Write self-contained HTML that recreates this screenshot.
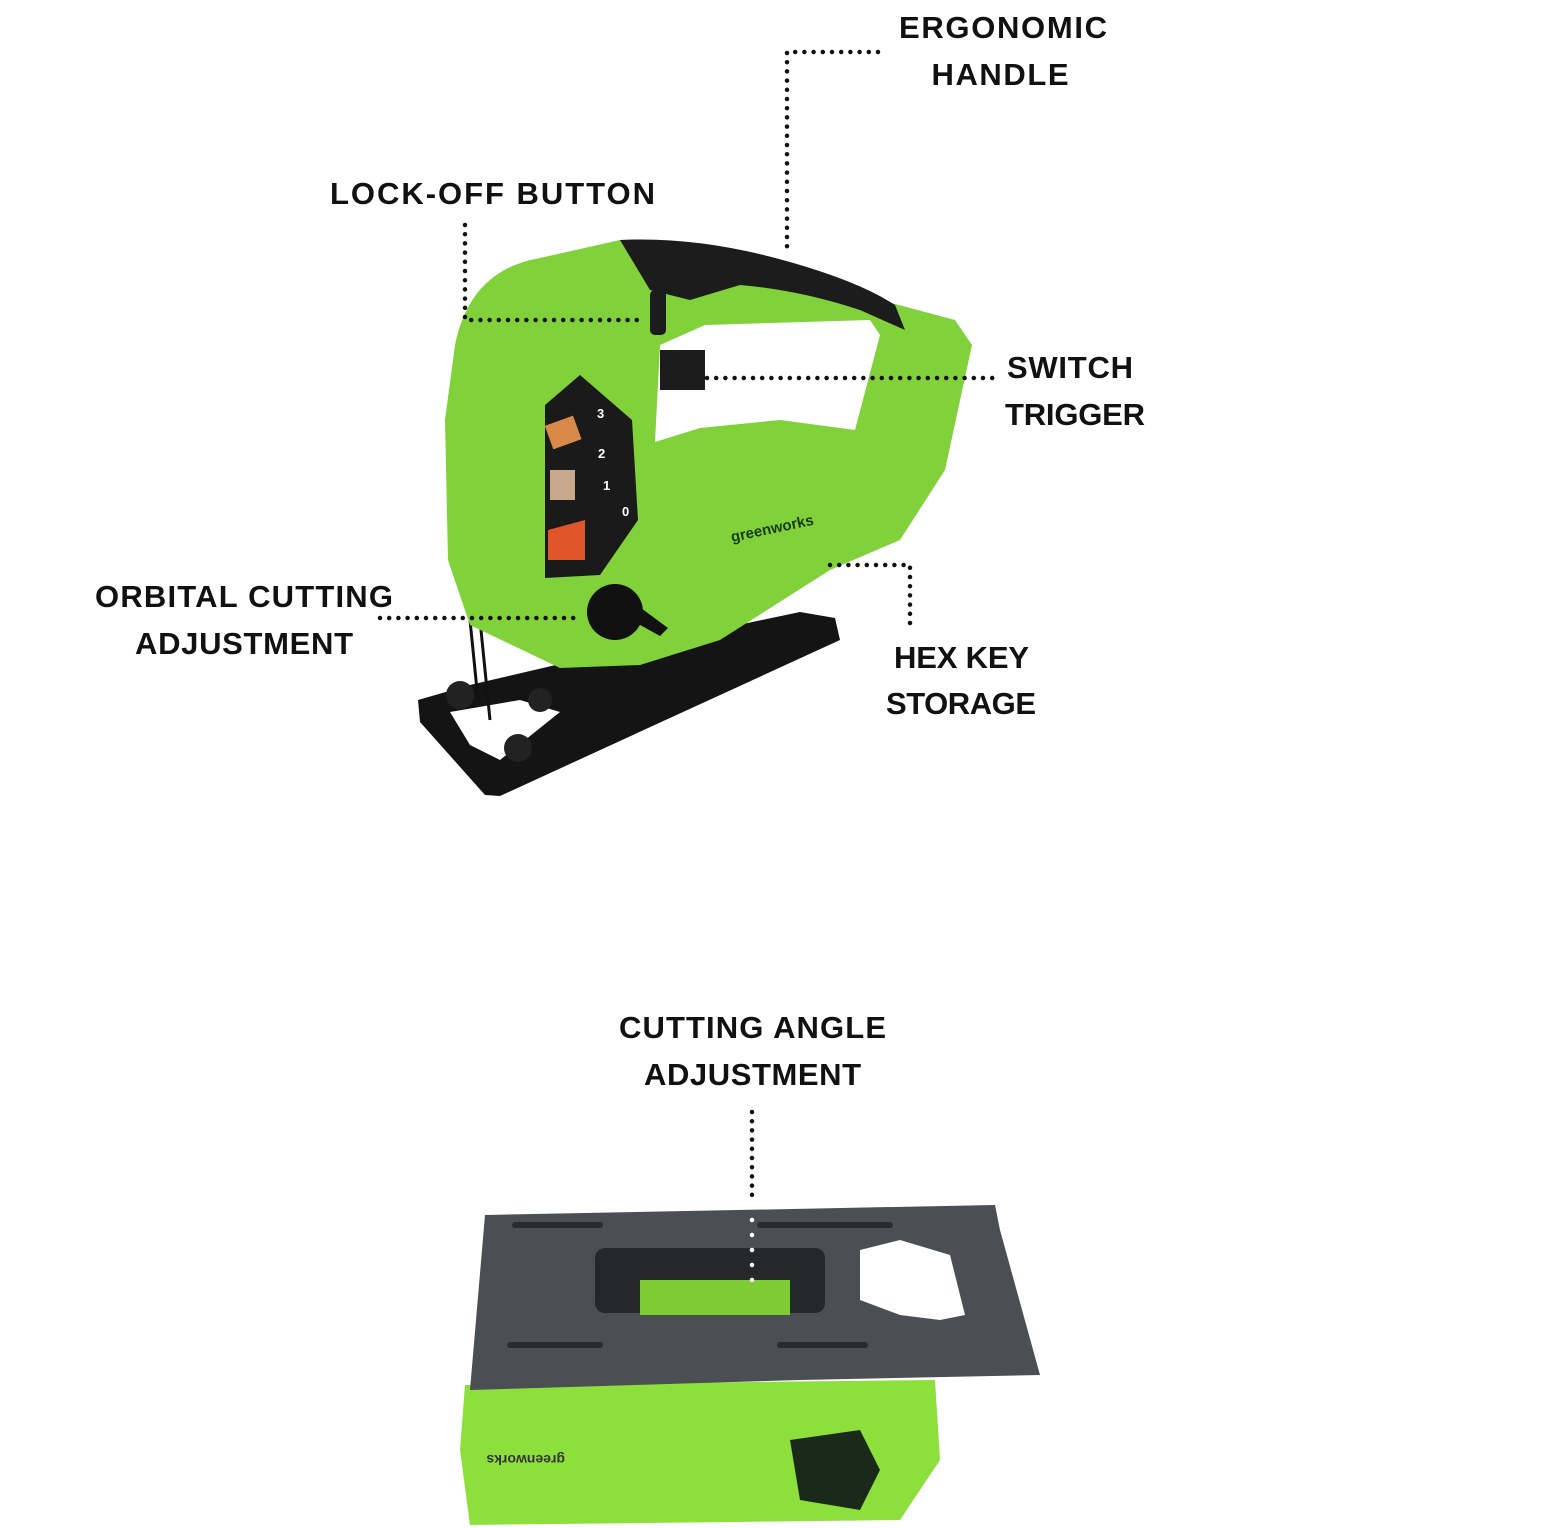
<!DOCTYPE html>
<html><head><meta charset="utf-8"><style>
html,body{margin:0;padding:0;background:#fff}
svg{display:block}
text{font-family:"Liberation Sans",sans-serif;font-weight:bold;font-size:31px;fill:#111}
</style></head><body>
<svg width="1555" height="1528" viewBox="0 0 1555 1528" xmlns="http://www.w3.org/2000/svg">
<!-- top jigsaw -->
<!-- base -->
<polygon points="418,700 470,685 620,650 800,612 835,618 840,640 500,796 485,795 420,722" fill="#141414"/>
<polygon points="450,712 520,700 560,712 500,760 470,745" fill="#fff"/>
<circle cx="460" cy="695" r="14" fill="#222"/><circle cx="518" cy="748" r="14" fill="#222"/><circle cx="540" cy="700" r="12" fill="#222"/>
<line x1="470" y1="620" x2="478" y2="700" stroke="#111" stroke-width="3"/>
<line x1="480" y1="620" x2="490" y2="720" stroke="#111" stroke-width="3"/>
<!-- body -->
<path d="M455,345 Q470,270 540,258 L620,240 L760,262 L880,300 L955,320 L972,345 L945,470 L900,540 L830,570 L720,640 L640,665 L560,668 L470,625 L448,560 L445,420 Z" fill="#80d13a"/>
<path d="M620,240 Q700,236 790,262 Q860,282 895,305 L905,330 L860,310 Q800,290 740,285 L690,300 L650,290 Z" fill="#1c1c1c"/>
<!-- handle hole -->
<path d="M660,345 L705,325 L870,320 L880,335 L855,430 L780,420 L700,428 L655,442 Z" fill="#fff"/>
<rect x="650" y="290" width="16" height="45" rx="5" fill="#1c1c1c"/>
<rect x="660" y="350" width="45" height="40" fill="#1c1c1c"/>
<!-- panel -->
<polygon points="545,405 580,375 632,420 638,520 600,575 545,578" fill="#1a1a1a"/>
<rect x="548" y="420" width="30" height="25" fill="#d98a4a" transform="rotate(-20 563 432)"/>
<rect x="550" y="470" width="25" height="30" fill="#c8a88a"/>
<path d="M548,530 L585,520 L585,560 L548,560 Z" fill="#e0552a"/>
<text x="597" y="418" style="font-size:13px;fill:#fff">3</text>
<text x="598" y="458" style="font-size:13px;fill:#fff">2</text>
<text x="603" y="490" style="font-size:13px;fill:#fff">1</text>
<text x="622" y="516" style="font-size:13px;fill:#fff">0</text>
<text x="732" y="542" transform="rotate(-12 732 542)" style="font-size:15px;fill:#1a3a10">greenworks</text>
<circle cx="615" cy="612" r="28" fill="#111"/>
<path d="M630,600 L668,628 L660,636 L622,615 Z" fill="#111"/>
<!-- bottom image -->
<path d="M465,1385 L935,1380 L940,1460 L900,1520 L470,1525 L460,1450 Z" fill="#8de03c"/>
<path d="M790,1440 L860,1430 L880,1470 L860,1510 L800,1500 Z" fill="#1a2a1a"/>
<text x="715" y="1465" transform="rotate(180 640 1460)" style="font-size:14px;fill:#333">greenworks</text>
<polygon points="485,1215 995,1205 1000,1230 1040,1375 800,1380 470,1390" fill="#4b4e53"/>
<rect x="595" y="1248" width="230" height="65" rx="10" fill="#262729"/>
<rect x="640" y="1280" width="150" height="35" fill="#7ecb34"/>
<path d="M860,1250 L900,1240 L950,1255 L965,1315 L940,1320 L900,1315 L860,1300 Z" fill="#fff"/>
<g fill="none" stroke="#2a2b2d" stroke-width="6" stroke-linecap="round">
<line x1="515" y1="1225" x2="600" y2="1225"/><line x1="760" y1="1225" x2="890" y2="1225"/>
<line x1="510" y1="1345" x2="600" y2="1345"/><line x1="780" y1="1345" x2="865" y2="1345"/>
</g>
<!-- dotted connectors -->
<g fill="none" stroke="#111" stroke-width="4.5" stroke-linecap="round" stroke-dasharray="0 9.2">
<polyline points="878,52 787,52 787,255"/>
<polyline points="465,225 465,320 645,320"/>
<line x1="707" y1="378" x2="995" y2="378"/>
<line x1="380" y1="618" x2="578" y2="618"/>
<polyline points="830,565 910,565 910,630"/>
<line x1="752" y1="1112" x2="752" y2="1200"/>
</g>
<line x1="752" y1="1220" x2="752" y2="1295" fill="none" stroke="#fff" stroke-width="4.5" stroke-linecap="round" stroke-dasharray="0 15"/>
<!-- labels -->
<text x="1003" y="38" text-anchor="middle" textLength="208">ERGONOMIC</text>
<text x="1000" y="85" text-anchor="middle" textLength="137">HANDLE</text>
<text x="330" y="204" textLength="325">LOCK-OFF BUTTON</text>
<text x="1007" y="378" textLength="126">SWITCH</text>
<text x="1005" y="425" textLength="140">TRIGGER</text>
<text x="95" y="607" textLength="298">ORBITAL CUTTING</text>
<text x="135" y="654" textLength="218">ADJUSTMENT</text>
<text x="894" y="668" textLength="135">HEX KEY</text>
<text x="886" y="714" textLength="150">STORAGE</text>
<text x="619" y="1038" textLength="267">CUTTING ANGLE</text>
<text x="644" y="1085" textLength="217">ADJUSTMENT</text>
</svg>
</body></html>
